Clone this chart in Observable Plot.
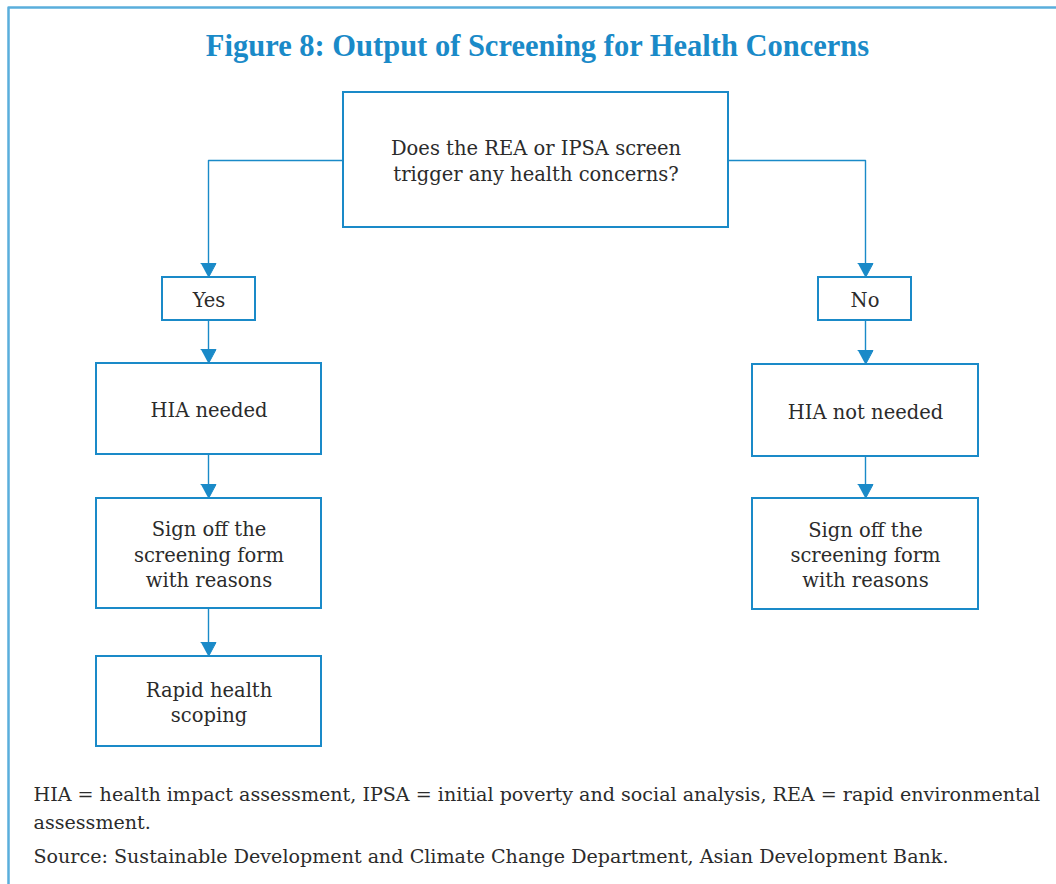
<!DOCTYPE html>
<html>
<head>
<meta charset="utf-8">
<script src="https://cdn.jsdelivr.net/npm/d3@7"></script>
<script src="https://cdn.jsdelivr.net/npm/@observablehq/plot@0.6"></script>
<style>
  html, body { margin: 0; padding: 0; background: #fff; }
  #chart svg { display: block; }
</style>
</head>
<body>
<div id="chart"></div>
<script>
// ---- Data ----
const titleText = "Figure 8: Output of Screening for Health Concerns";

// flowchart nodes: label and bounding box in page units
const nodeIds    = ["question", "yes", "no", "hiaNeeded", "hiaNotNeeded", "signLeft", "signRight", "rapid"];
const nodeLabels = [
  "Does the REA or IPSA screen\ntrigger any health concerns?",
  "Yes",
  "No",
  "HIA needed",
  "HIA not needed",
  "Sign off the\nscreening form\nwith reasons",
  "Sign off the\nscreening form\nwith reasons",
  "Rapid health\nscoping"
];
const nodeX1 = [343, 162, 818,  96, 752,  96, 752,  96];
const nodeX2 = [728, 255, 911, 321, 978, 321, 978, 321];
const nodeY1 = [ 92, 277, 277, 363, 364, 498, 498, 656];
const nodeY2 = [227, 320, 320, 454, 456, 608, 609, 746];

// connectors: list of [x, y] points, last point is arrow tip
const connectors = [
  [[343, 160], [208, 160], [208, 277]],
  [[728, 160], [865, 160], [865, 277]],
  [[208, 320], [208, 363]],
  [[865, 320], [865, 364]],
  [[208, 454], [208, 498]],
  [[865, 456], [865, 498]],
  [[208, 608], [208, 656]]
];

const footnoteLines = [
  "HIA = health impact assessment, IPSA = initial poverty and social analysis, REA = rapid environmental",
  "assessment.",
  "Source: Sustainable Development and Climate Change Department, Asian Development Bank."
];
const footnoteY = [794, 822, 856];

const framePoints = [[8, 884], [8, 7], [1056, 7]];

// ---- Build tables ----
const nodes = nodeIds.map((id, i) => ({
  id, label: nodeLabels[i],
  x1: nodeX1[i], x2: nodeX2[i], y1: nodeY1[i], y2: nodeY2[i],
  cx: (nodeX1[i] + nodeX2[i]) / 2, cy: (nodeY1[i] + nodeY2[i]) / 2
}));

const linePts = connectors.flatMap((pts, k) =>
  pts.map((p, j) => ({ k, x: p[0], y: j === pts.length - 1 ? p[1] - 10 : p[1] })));

const arrowW = 7.5, arrowH = 14;
const heads = connectors.flatMap((pts, k) => {
  const [tx, ty] = pts[pts.length - 1];
  return [
    { k, x: tx - arrowW, y: ty - arrowH },
    { k, x: tx + arrowW, y: ty - arrowH },
    { k, x: tx, y: ty }
  ];
});

const frame = framePoints.map(p => ({ x: p[0], y: p[1] }));
const foot = footnoteLines.map((t, i) => ({ t, y: footnoteY[i] }));

const blue = "#1a8ac8";
const frameBlue = "#5aaedc";
const ink = "#2b2b2b";

const chart = Plot.plot({
  width: 1056,
  height: 884,
  margin: 0,
  x: { domain: [0, 1056], range: [0, 1056], axis: null },
  y: { domain: [0, 884], range: [0, 884], axis: null },
  style: { background: "#fff" },
  marks: [
    Plot.line(frame, { x: "x", y: "y", stroke: frameBlue, strokeWidth: 2.5 }),
    Plot.text([titleText], {
      x: () => 537, y: () => 46, text: d => d,
      fontSize: 30.5, fontWeight: "bold", fill: blue,
      fontFamily: "Liberation Serif", textAnchor: "middle", lineAnchor: "middle"
    }),
    Plot.line(linePts, { x: "x", y: "y", z: "k", stroke: blue, strokeWidth: 1.4 }),
    Plot.line(heads, { x: "x", y: "y", z: "k", fill: blue, stroke: blue, strokeWidth: 1 }),
    Plot.rect(nodes, { x1: "x1", x2: "x2", y1: "y1", y2: "y2", fill: "white", stroke: blue, strokeWidth: 2 }),
    Plot.text(nodes, {
      x: "cx", y: "cy", text: "label",
      fontSize: 19.5, lineHeight: 1.3, fill: ink,
      fontFamily: "DejaVu Serif", textAnchor: "middle", lineAnchor: "middle"
    }),
    Plot.text(foot, {
      x: () => 33, y: "y", text: "t",
      fontSize: 19.1, fill: ink, fontFamily: "DejaVu Serif",
      textAnchor: "start", lineAnchor: "middle"
    })
  ]
});

document.getElementById("chart").appendChild(chart);
</script>
</body>
</html>
